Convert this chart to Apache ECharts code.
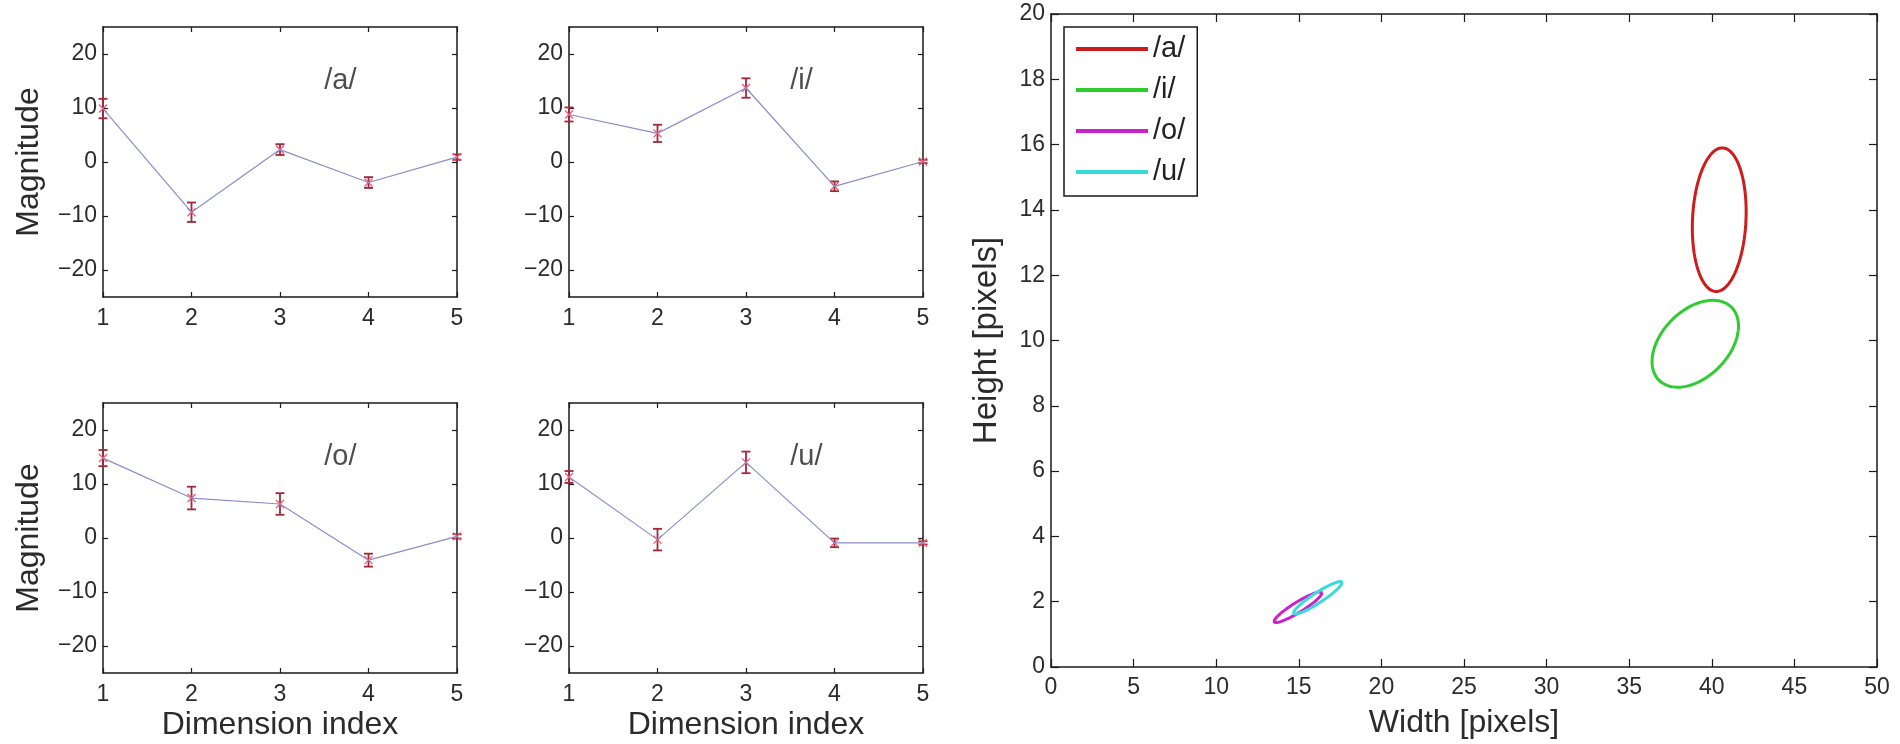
<!DOCTYPE html>
<html>
<head>
<meta charset="utf-8">
<script src="https://cdn.jsdelivr.net/npm/echarts@6/dist/echarts.min.js"></script>
<style>
  html, body { margin: 0; padding: 0; background: #fff; }
  #main { width: 1900px; height: 744px; }
</style>
</head>
<body>
<div id="main"></div>
<script>
// dimension index (x of the four small panels)
var dims = [1, 2, 3, 4, 5];

// mean magnitude and error for each vowel
var magA = [9.9, -9.3, 2.3, -3.8, 0.9];
var errA = [1.8, 1.8, 1.0, 1.0, 0.5];
var magI = [8.8, 5.3, 13.7, -4.5, 0.1];
var errI = [1.3, 1.6, 1.8, 0.9, 0.3];
var magO = [14.8, 7.4, 6.3, -4.1, 0.3];
var errO = [1.5, 2.1, 2.0, 1.2, 0.4];
var magU = [11.3, -0.3, 14.0, -0.9, -0.9];
var errU = [1.1, 2.0, 2.0, 0.8, 0.3];

var vowels = ['/a/', '/i/', '/o/', '/u/'];
var magTicks = [-20, -10, 0, 10, 20];
var labelAnchor = [3.5, 15];

// ellipses: center x, center y, axis vector u (x, y), axis vector v (x, y)
var ellA = [40.45, 13.7, 1.62, 0, 0.18, 2.2];
var ellI = [39.0, 9.9, 2.6, 0.4, 0.3, 1.27];
var ellO = [14.95, 1.83, 1.43, 0.45, -0.17, 0.13];
var ellU = [16.15, 2.12, 1.45, 0.48, -0.17, 0.13];
var ellColors = ['#cc1c1c', '#2ecc2e', '#cc22cc', '#3adada'];

var axisColor = '#1a1a1a';
var labelColor = '#2b2b2b';
var font = 'Liberation Sans, Arial, sans-serif';

function minus(v) { return String(v).replace('-', '\u2212'); }

var panels = [
  { name: vowels[0], mag: magA, err: errA, left: 103, top: 27, yName: true, xName: false },
  { name: vowels[1], mag: magI, err: errI, left: 569, top: 27, yName: false, xName: false },
  { name: vowels[2], mag: magO, err: errO, left: 103, top: 403, yName: true, xName: true },
  { name: vowels[3], mag: magU, err: errU, left: 569, top: 403, yName: false, xName: true }
];

var option = {
  backgroundColor: '#fff',
  animation: false,
  textStyle: { fontFamily: font },
  grid: [], xAxis: [], yAxis: [], series: []
};

function baseAxis(grid, pos, tickLen, showLabel) {
  return {
    type: 'value', gridIndex: grid, position: pos,
    axisLine: { show: true, onZero: false, lineStyle: { color: axisColor, width: 1.5 } },
    axisTick: { show: true, inside: true, length: tickLen, lineStyle: { color: axisColor, width: 1.2 } },
    axisLabel: { show: showLabel, fontSize: 23, color: labelColor, fontFamily: font, formatter: minus },
    splitLine: { show: false }
  };
}

// error bar with x marker
function errorBar(params, api) {
  var x = api.value(0), m = api.value(1), e = api.value(2);
  var c = api.coord([x, m]);
  var t = api.coord([x, m + e]);
  var b = api.coord([x, m - e]);
  var bar = { stroke: '#a42638', lineWidth: 1.8 };
  var mk = { stroke: '#e85a74', lineWidth: 1.3 };
  return {
    type: 'group',
    children: [
      { type: 'line', shape: { x1: t[0], y1: t[1], x2: b[0], y2: b[1] }, style: bar },
      { type: 'line', shape: { x1: t[0] - 4.5, y1: t[1], x2: t[0] + 4.5, y2: t[1] }, style: bar },
      { type: 'line', shape: { x1: b[0] - 4.5, y1: b[1], x2: b[0] + 4.5, y2: b[1] }, style: bar },
      { type: 'line', shape: { x1: c[0] - 4, y1: c[1] - 4, x2: c[0] + 4, y2: c[1] + 4 }, style: mk },
      { type: 'line', shape: { x1: c[0] - 4, y1: c[1] + 4, x2: c[0] + 4, y2: c[1] - 4 }, style: mk }
    ]
  };
}

panels.forEach(function (p, i) {
  option.grid.push({ left: p.left, top: p.top, width: 354, height: 270 });

  var xb = baseAxis(i, 'bottom', 5, true);
  xb.min = 1; xb.max = 5; xb.interval = 1;
  xb.axisLabel.margin = 10;
  if (p.xName) {
    xb.name = 'Dimension index';
    xb.nameLocation = 'middle';
    xb.nameGap = 36;
    xb.nameTextStyle = { fontSize: 32, color: labelColor, fontFamily: font };
  }
  var xt = baseAxis(i, 'top', 5, false);
  xt.min = 1; xt.max = 5; xt.interval = 1;

  var yl = baseAxis(i, 'left', 5, true);
  yl.min = -25; yl.max = 25;
  yl.axisTick.customValues = magTicks;
  yl.axisLabel.customValues = magTicks;
  yl.axisLabel.margin = 6;
  if (p.yName) {
    yl.name = 'Magnitude';
    yl.nameLocation = 'middle';
    yl.nameGap = 58;
    yl.nameTextStyle = { fontSize: 32, color: labelColor, fontFamily: font };
  }
  var yr = baseAxis(i, 'right', 5, false);
  yr.min = -25; yr.max = 25;
  yr.axisTick.customValues = magTicks;

  option.xAxis.push(xb, xt);
  option.yAxis.push(yl, yr);

  var pts = dims.map(function (d, k) { return [d, p.mag[k], p.err[k]]; });

  option.series.push({
    type: 'line', xAxisIndex: 2 * i, yAxisIndex: 2 * i,
    data: pts.map(function (q) { return [q[0], q[1]]; }),
    symbol: 'none', silent: true,
    lineStyle: { color: '#8c8cc8', width: 1.2 }
  });
  option.series.push({
    type: 'custom', xAxisIndex: 2 * i, yAxisIndex: 2 * i,
    data: pts, renderItem: errorBar, silent: true, z: 3
  });
  option.series.push({
    type: 'scatter', xAxisIndex: 2 * i, yAxisIndex: 2 * i,
    data: [labelAnchor], symbolSize: 0, silent: true,
    label: {
      show: true, position: 'right', distance: 0, formatter: p.name,
      fontSize: 29, color: '#222', fontFamily: font
    }
  });
});

// big panel: width vs height ellipses
option.grid.push({ left: 1051, top: 14, width: 826, height: 653 });

var wb = baseAxis(4, 'bottom', 8, true);
wb.min = 0; wb.max = 50; wb.interval = 5;
wb.axisLabel.margin = 9;
wb.name = 'Width [pixels]';
wb.nameLocation = 'middle';
wb.nameGap = 40;
wb.nameTextStyle = { fontSize: 32, color: labelColor, fontFamily: font };
var wt = baseAxis(4, 'top', 8, false);
wt.min = 0; wt.max = 50; wt.interval = 5;

var hl = baseAxis(4, 'left', 8, true);
hl.min = 0; hl.max = 20; hl.interval = 2;
hl.axisLabel.margin = 6;
hl.name = 'Height [pixels]';
hl.nameLocation = 'middle';
hl.nameGap = 48;
hl.nameTextStyle = { fontSize: 33, color: labelColor, fontFamily: font };
var hr = baseAxis(4, 'right', 8, false);
hr.min = 0; hr.max = 20; hr.interval = 2;

option.xAxis.push(wb, wt);
option.yAxis.push(hl, hr);

function ellipse(params, api) {
  var cx = api.value(0), cy = api.value(1);
  var ux = api.value(2), uy = api.value(3), vx = api.value(4), vy = api.value(5);
  var pts = [];
  for (var k = 0; k <= 90; k++) {
    var t = 2 * Math.PI * k / 90;
    pts.push(api.coord([cx + ux * Math.cos(t) + vx * Math.sin(t), cy + uy * Math.cos(t) + vy * Math.sin(t)]));
  }
  return { type: 'polyline', shape: { points: pts }, style: { stroke: api.visual('color'), lineWidth: 3, fill: null } };
}

[ellA, ellI, ellO, ellU].forEach(function (e, i) {
  option.series.push({
    type: 'custom', name: vowels[i], xAxisIndex: 8, yAxisIndex: 8,
    data: [e], renderItem: ellipse, silent: true,
    itemStyle: { color: ellColors[i] }
  });
});

option.legend = {
  data: vowels.map(function (v) { return { name: v, icon: 'rect' }; }),
  orient: 'vertical', left: 1064, top: 27,
  itemWidth: 72, itemHeight: 4, itemGap: 11,
  padding: [7, 12, 9, 12],
  borderColor: axisColor, borderWidth: 1.5, backgroundColor: '#fff',
  selectedMode: false,
  textStyle: { fontSize: 29, color: '#222', fontFamily: font, lineHeight: 30 }
};

var chart = echarts.init(document.getElementById('main'));
chart.setOption(option);
</script>
</body>
</html>
